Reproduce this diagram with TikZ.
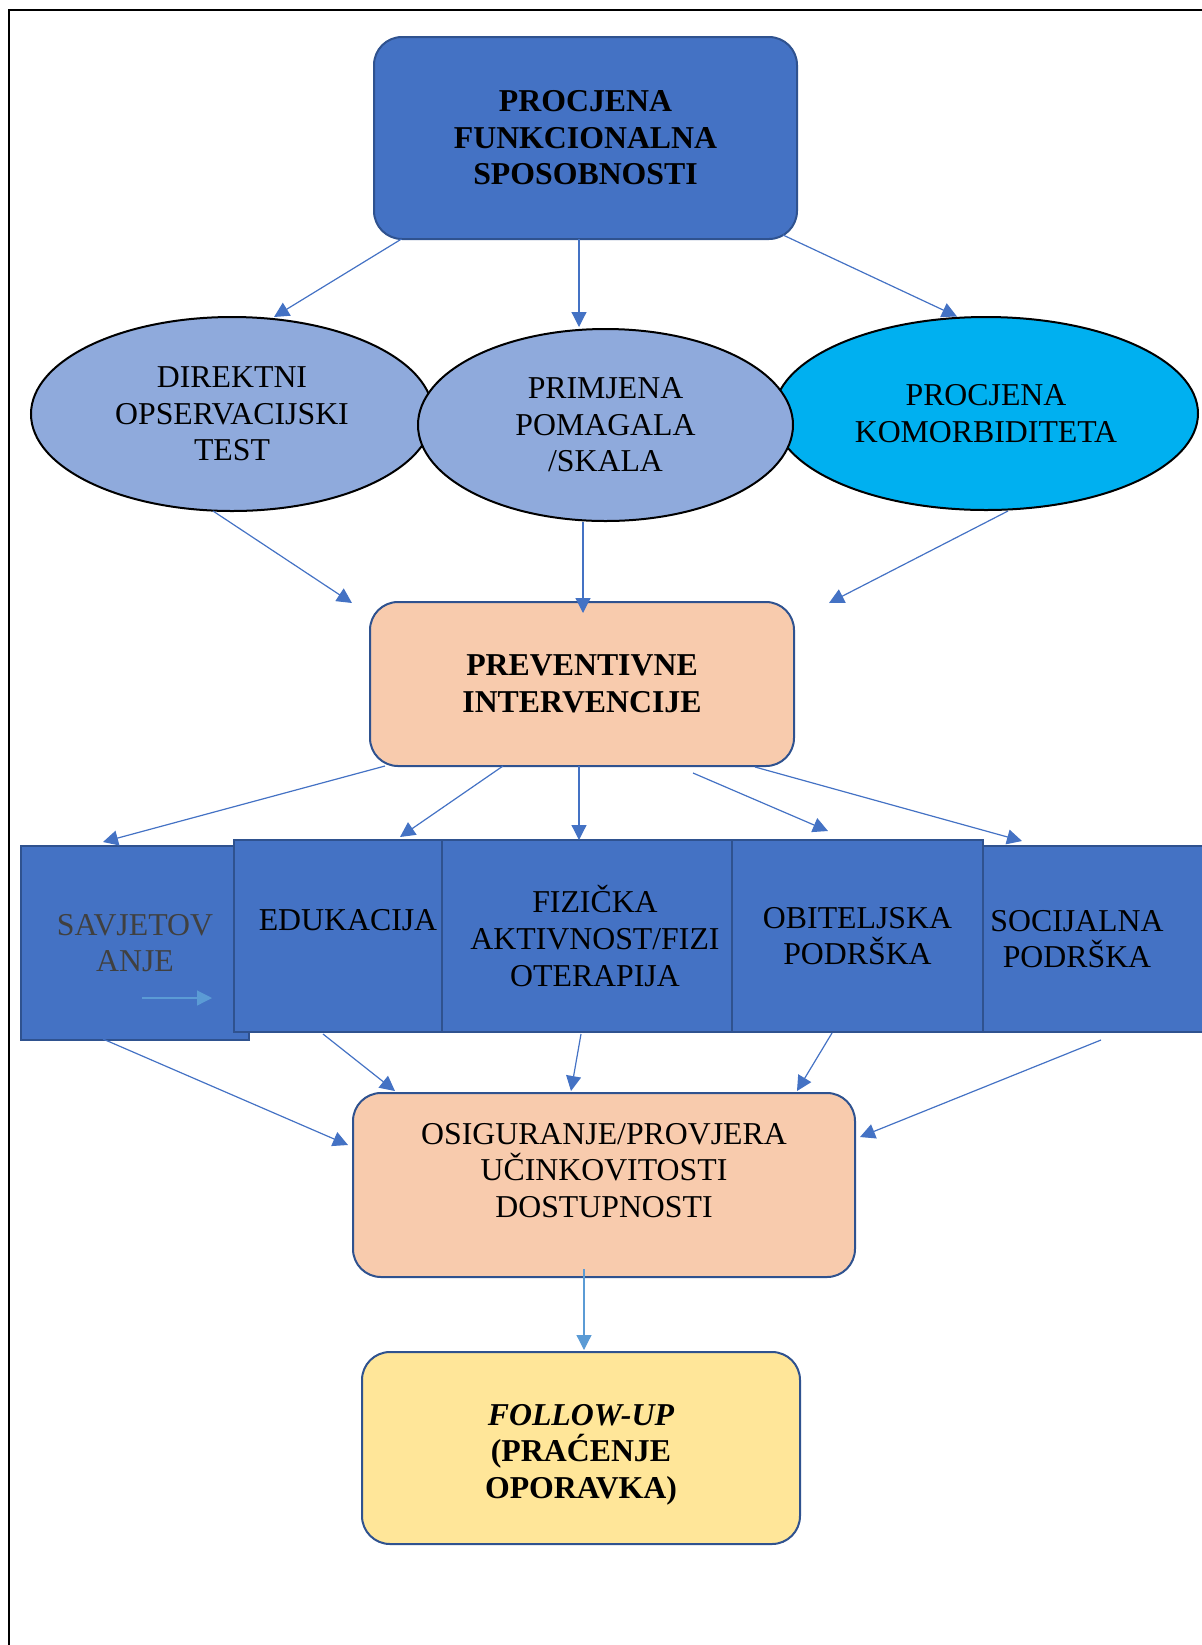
\documentclass[tikz,border=0pt]{standalone}
\usepackage{fontspec}
\setmainfont{Liberation Serif}
\usetikzlibrary{arrows.meta,shapes.geometric,calc}

\definecolor{plava}{HTML}{4472C4}
\definecolor{bordo}{HTML}{2F528F}
\definecolor{svijetla}{HTML}{8FAADC}
\definecolor{cijan}{HTML}{00B0F0}
\definecolor{breskva}{HTML}{F8CBAD}
\definecolor{zuta}{HTML}{FFE699}
\definecolor{svjetloplava}{HTML}{5B9BD5}
\definecolor{siva}{HTML}{404040}

\newcommand{\velicina}{\fontsize{15.9pt}{18.3pt}\selectfont}

\begin{document}
\begin{tikzpicture}[x=0.5pt,y=-0.5pt,font=\velicina,
	box/.style={rectangle,rounded corners=14pt,draw=bordo,line width=1pt,align=center},
	oval/.style={ellipse,draw=black,line width=1pt,align=center,inner sep=0pt},
	blok/.style={rectangle,draw=bordo,line width=1pt,fill=plava,align=center,minimum height=96pt},
	veza/.style={draw=plava,line width=0.6pt,-{Triangle[length=7.5pt,width=7.5pt]}}]
	\useasboundingbox (0,0) rectangle (1202,1645);
	\draw[line width=1pt] (9,1645) -- (9,10) -- (1202,10);

	% procjena
	\node[box,fill=plava,minimum width=211.5pt,minimum height=101pt,font=\velicina\bfseries] (pf) at (585.5,138) {PROCJENA\\FUNKCIONALNA\\SPOSOBNOSTI};

	\node[oval,fill=svijetla,minimum width=201pt,minimum height=97pt] (dot) at (232,414) {DIREKTNI\\OPSERVACIJSKI\\TEST};
	\node[oval,fill=cijan,minimum width=212pt,minimum height=96.5pt] (kom) at (986,413.5) {PROCJENA\\KOMORBIDITETA};
	\node[oval,fill=svijetla,minimum width=187.5pt,minimum height=96pt] (pom) at (605.5,425) {PRIMJENA\\POMAGALA\\/SKALA};

	% intervencije
	\node[box,fill=breskva,minimum width=212pt,minimum height=82pt,font=\velicina\bfseries] (prev) at (582,684) {PREVENTIVNE\\INTERVENCIJE};

	\node[blok,minimum width=114pt,minimum height=97pt,text=siva] (sav) at (135,943) {SAVJETOV\\ANJE};
	\node[blok,minimum width=104pt,inner xsep=1pt] (edu) at (338,936) {\hspace*{10pt}EDUKACIJA\\[-2.3pt]\mbox{}};
	\node[blok,minimum width=145pt] (fiz) at (587,936) {\hspace*{8pt}FIZIČKA\\\hspace*{8pt}AKTIVNOST/FIZI\\\hspace*{8pt}OTERAPIJA};
	\node[blok,minimum width=125.5pt] (obi) at (857.5,936) {OBITELJSKA\\PODRŠKA};
	\node[blok,minimum width=111.5pt,minimum height=93pt,inner xsep=1pt] (soc) at (1094.5,939) {SOCIJALNA\hspace*{17.5pt}\\PODRŠKA\hspace*{17.5pt}};

	% provjera i pracenje
	\node[box,fill=breskva,minimum width=251pt,minimum height=92pt] (osi) at (604,1185) {OSIGURANJE/PROVJERA\\UČINKOVITOSTI\\DOSTUPNOSTI\\[-3.6pt]\mbox{}};
	\node[box,fill=zuta,minimum width=219pt,minimum height=96pt,font=\velicina\bfseries] (fol) at (581,1448) {\rule{0pt}{17pt}\textit{FOLLOW-UP}\\(PRAĆENJE\\OPORAVKA)};

	\draw[veza] ($(pf.south)+(-184,-1)$) -- ($(dot.north)+(42,1)$);
	\draw[veza] ($(pf.south)+(-6.5,-1)$) -- ($(pom.north)+(-26.5,-1)$);
	\draw[veza] ($(pf.south)+(197.5,-5)$) -- ($(kom.north)+(-29,0.5)$);

	\draw[veza] ($(dot.south)+(-19,-1)$) -- ($(prev.north west)+(-17,2)$);
	\draw[veza] ($(pom.south)+(-22.5,0)$) -- ($(prev.north)+(1,12)$);
	\draw[veza] ($(kom.south)+(22,0)$) -- ($(prev.north east)+(34,2)$);

	\draw[veza] ($(prev.south)+(-197,-1)$) -- ($(sav.north)+(-32,-3)$);
	\draw[veza] ($(prev.south)+(-79,-1)$) -- ($(edu.north)+(62,-2)$);
	\draw[veza] ($(prev.south)+(-3,-1)$) -- ($(fiz.north)+(-8,1)$);
	\draw[veza] ($(prev.south)+(111,6)$) -- ($(obi.north)+(-29.5,-8)$);
	\draw[veza] ($(prev.south)+(173,0)$) -- ($(soc.north)+(-72.5,-4)$);

	\draw[veza] ($(sav.south)+(-32,-2)$) -- ($(osi.west)+(-4,-40)$);
	\draw[veza] ($(edu.south)+(-15,1)$) -- ($(osi.north)+(-209,-1)$);
	\draw[veza] ($(fiz.south)+(-6,1)$) -- ($(osi.north)+(-33,-1)$);
	\draw[veza] ($(obi.south)+(-25.5,0)$) -- ($(osi.north)+(193,-1)$);
	\draw[veza] ($(soc.south)+(6.5,7)$) -- ($(osi.east)+(4,-48)$);

	\draw[veza,draw=svjetloplava] ($(osi.south)+(-20,-9)$) -- ($(fol.north)+(3,-1)$);
	\draw[veza,draw=svjetloplava] ($(sav.center)+(7,55)$) -- ($(sav.center)+(77,55)$);
\end{tikzpicture}
\end{document}
